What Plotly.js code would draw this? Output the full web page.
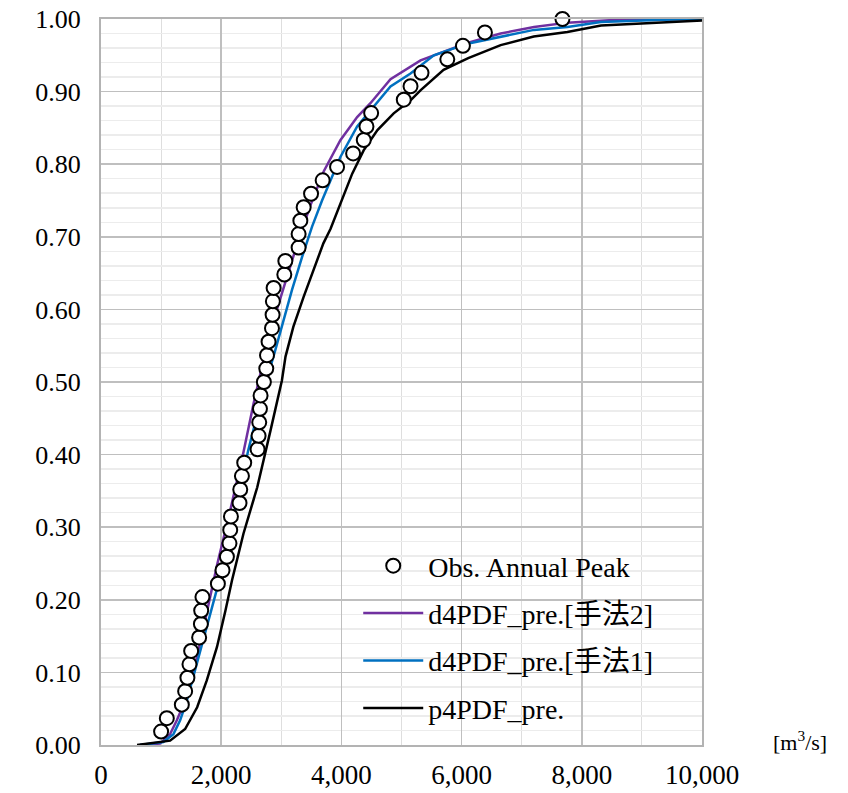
<!DOCTYPE html>
<html>
<head>
<meta charset="utf-8">
<script src="https://cdn.plot.ly/plotly-3.0.1.min.js"></script>
<style>
  html, body { margin: 0; padding: 0; background: #ffffff; }
  #chart { width: 848px; height: 793px; }
</style>
</head>
<body>
<div id="chart"></div>
<script>
// Observed annual peaks (plotting position)
const obsX = [1000, 1095, 1345, 1400, 1438, 1472, 1500, 1633, 1662, 1667, 1688, 1945, 2022, 2095,
  2138, 2150, 2162, 2305, 2317, 2345, 2383, 2605, 2622, 2633, 2645, 2655, 2710, 2750, 2762, 2788,
  2845, 2855, 2860, 2872, 3050, 3067, 3288, 3288, 3317, 3372, 3495, 3688, 3928, 4195, 4372, 4417,
  4495, 5038, 5150, 5333, 5762, 6022, 6388, 7678];
const obsY = [0.0185, 0.0370, 0.0556, 0.0741, 0.0926, 0.1111, 0.1296, 0.1481, 0.1667, 0.1852,
  0.2037, 0.2222, 0.2407, 0.2593, 0.2778, 0.2963, 0.3148, 0.3333, 0.3519, 0.3704, 0.3889, 0.4074,
  0.4259, 0.4444, 0.4630, 0.4815, 0.5000, 0.5185, 0.5370, 0.5556, 0.5741, 0.5926, 0.6111, 0.6296,
  0.6481, 0.6667, 0.6852, 0.7037, 0.7222, 0.7407, 0.7593, 0.7778, 0.7963, 0.8148, 0.8333, 0.8519,
  0.8704, 0.8889, 0.9074, 0.9259, 0.9444, 0.9630, 0.9815, 1.0000];

// d4PDF_pre.[手法2]
const m2X = [650, 983, 1150, 1262, 1400, 1567, 1733, 1928, 2150, 2372, 2538, 2700, 2867, 3067,
  3283, 3483, 3705, 3983, 4262, 4483, 4817, 5317, 5705, 6095, 6650, 7205, 7762, 8317, 8817, 10000];
const m2Y = [0, 0.002, 0.015, 0.034, 0.061, 0.110, 0.172, 0.247, 0.323, 0.404, 0.470, 0.529, 0.584,
  0.639, 0.695, 0.743, 0.790, 0.833, 0.865, 0.884, 0.917, 0.943, 0.955, 0.967, 0.980, 0.989, 0.995,
  0.998, 1.000, 1.000];

// d4PDF_pre.[手法1]
const m1X = [650, 1038, 1205, 1317, 1428, 1567, 1678, 1817, 1900, 1983, 2028, 2450, 2683, 2900,
  3038, 3178, 3345, 3512, 3678, 3983, 4262, 4538, 4817, 5150, 5538, 6095, 6650, 7205, 7762, 8317,
  9372, 10000];
const m1Y = [0, 0.004, 0.015, 0.034, 0.061, 0.103, 0.139, 0.181, 0.204, 0.231, 0.245, 0.406, 0.482,
  0.544, 0.585, 0.627, 0.672, 0.714, 0.750, 0.810, 0.852, 0.879, 0.907, 0.925, 0.950, 0.966, 0.976,
  0.985, 0.989, 0.996, 0.999, 1.000];

// p4PDF_pre.
const pX = [600, 1150, 1400, 1600, 1760, 1930, 2070, 2180, 2370, 2600, 2820, 3010, 3070, 3200, 3370,
  3540, 3700, 3820, 4010, 4180, 4370, 4600, 4870, 5150, 5320, 5700, 6110, 6650, 7200, 7760, 8320,
  9370, 10000];
const pY = [0, 0.006, 0.022, 0.052, 0.089, 0.135, 0.185, 0.227, 0.291, 0.355, 0.433, 0.502, 0.535,
  0.576, 0.617, 0.654, 0.691, 0.711, 0.751, 0.787, 0.819, 0.847, 0.870, 0.888, 0.902, 0.930, 0.946,
  0.964, 0.976, 0.982, 0.991, 0.996, 0.998];

const names = ['Obs. Annual Peak', 'd4PDF_pre.[手法2]', 'd4PDF_pre.[手法1]', 'p4PDF_pre.'];
const xTickVals = [0, 2000, 4000, 6000, 8000, 10000];
const xTickText = ['0', '2,000', '4,000', '6,000', '8,000', '10,000'];
const unitLabel = '[m<sup>3</sup>/s]';

const FONT = 'Liberation Serif, Times New Roman, Noto Sans CJK JP, serif';

const traces = [
  {x: m2X, y: m2Y, name: names[1], mode: 'lines', line: {color: '#7030A0', width: 2.5},
   legendgroup: 'g2', legendrank: 2},
  {x: m1X, y: m1Y, name: names[2], mode: 'lines', line: {color: '#0070C0', width: 2.5},
   legendgroup: 'g3', legendrank: 3},
  {x: pX, y: pY, name: names[3], mode: 'lines', line: {color: '#000000', width: 2.5},
   legendgroup: 'g4', legendrank: 4},
  {x: obsX, y: obsY, name: names[0], mode: 'markers', cliponaxis: false,
   marker: {symbol: 'circle', size: 14, color: '#ffffff', line: {color: '#000000', width: 2}},
   legendgroup: 'g1', legendrank: 1}
];

const layout = {
  width: 848, height: 793,
  margin: {l: 101, r: 146, t: 19, b: 48},
  paper_bgcolor: '#ffffff', plot_bgcolor: '#ffffff',
  font: {family: FONT, size: 27, color: '#000000'},
  showlegend: true,
  legend: {
    x: 0.428, xanchor: 'left', y: 0.281, yanchor: 'top',
    bgcolor: 'rgba(0,0,0,0)', borderwidth: 0,
    font: {family: FONT, size: 28, color: '#000000'},
    traceorder: 'grouped', tracegroupgap: 8, itemwidth: 60
  },
  xaxis: {
    range: [0, 10000], tickmode: 'array', tickvals: xTickVals, ticktext: xTickText,
    showgrid: true, gridcolor: '#bfbfbf', gridwidth: 1.5,
    minor: {dtick: 1000, showgrid: true, gridcolor: '#dedede', gridwidth: 1, ticks: ''},
    showline: true, mirror: true, linecolor: '#b3b3b3', linewidth: 2,
    ticks: '', zeroline: false, ticklabelstandoff: 5,
    tickfont: {family: FONT, size: 27}
  },
  yaxis: {
    range: [0, 1], dtick: 0.1, tickformat: '.2f',
    showgrid: true, gridcolor: '#bfbfbf', gridwidth: 1.5,
    minor: {dtick: 0.02, showgrid: true, gridcolor: '#ececec', gridwidth: 1.5, ticks: ''},
    showline: true, mirror: true, linecolor: '#b3b3b3', linewidth: 2,
    ticks: '', zeroline: false, ticklabelstandoff: 13,
    tickfont: {family: FONT, size: 26}
  },
  shapes: [
    {type: 'rect', xref: 'x', yref: 'y', x0: 3860, x1: 10000, y0: 0.0165, y1: 0.278,
     fillcolor: '#ffffff', line: {width: 0}, layer: 'below'}
  ],
  annotations: [
    {text: unitLabel, xref: 'paper', yref: 'paper', x: 1.163, y: 0.005, xanchor: 'center',
     yanchor: 'middle', showarrow: false, font: {family: FONT, size: 22, color: '#000000'}}
  ]
};

Plotly.newPlot('chart', traces, layout, {displayModeBar: false, staticPlot: true});
</script>
</body>
</html>
